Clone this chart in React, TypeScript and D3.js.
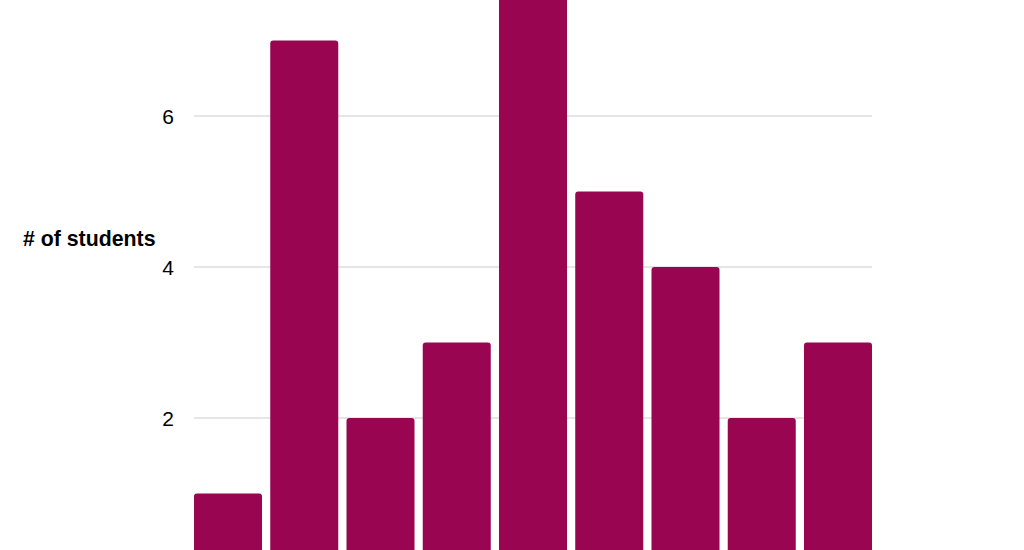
import React from "react";
import * as d3 from "d3";

const categories = ["1", "2", "3", "4", "5", "6", "7", "8", "9"];
const students = [1, 7, 2, 3, 8, 5, 4, 2, 3];
const yTicks = [2, 4, 6];

const W = 1024;
const H = 550;

function topRoundedRect(x: number, y: number, w: number, h: number, r: number) {
  return `M${x},${y + h}V${y + r}Q${x},${y} ${x + r},${y}H${x + w - r}Q${x + w},${y} ${x + w},${y + r}V${y + h}Z`;
}

export default function App() {
  const x = d3.scaleBand<string>().domain(categories).range([194, 872]).paddingInner(0.108).paddingOuter(0);
  const y = d3.scaleLinear().domain([0, 8]).range([569, -35]);
  return (
    <svg width={W} height={H} style={{ position: "absolute", left: 0, top: 0, display: "block" }}
      fontFamily="'Liberation Sans', Arial, sans-serif">
      <rect width={W} height={H} fill="#ffffff" />
      {yTicks.map((t) => (
        <g key={t}>
          <line x1={194} x2={872} y1={y(t)} y2={y(t)} stroke="#cccccc" strokeWidth={1} />
          <text x={174} y={y(t)} dy="0.36em" textAnchor="end" fontSize={21} fill="#000">{t}</text>
        </g>
      ))}
      {categories.map((c, i) => (
        <path key={c} d={topRoundedRect(x(c)!, y(students[i]), x.bandwidth(), 569 - y(students[i]), 3)} fill="#990550" />
      ))}
      <text x={23} y={238} dy="0.36em" fontSize={21.3} fontWeight="bold" fill="#000">
        # of students
      </text>
    </svg>
  );
}
